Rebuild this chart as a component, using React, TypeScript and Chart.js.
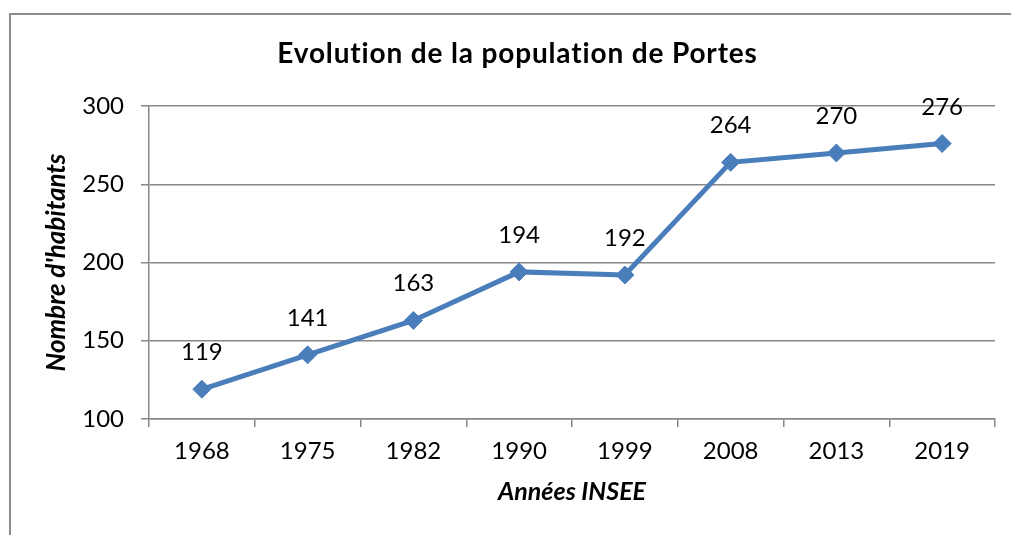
import React, { useEffect, useRef } from "react";
import { Chart, registerables } from "chart.js";

Chart.register(...registerables);

const years = ["1968", "1975", "1982", "1990", "1999", "2008", "2013", "2019"];
const population = [119, 141, 163, 194, 192, 264, 270, 276];
const yTicks = [100, 150, 200, 250, 300];
const chartTitle = "Evolution de la population de Portes";
const yTitle = "Nombre d'habitants";
const xTitle = "Années INSEE";

const FONT = "Lato, 'Open Sans', sans-serif";
const GRID = "#878787";
const BLUE = "#4A7EBB";

const titlePlugin = {
  id: "customTitle",
  afterDraw(chart: any) {
    const ctx = chart.ctx;
    ctx.save();
    ctx.font = `bold 28px ${FONT}`;
    try {
      (ctx as any).letterSpacing = "0.85px";
    } catch (e) {}
    ctx.fillStyle = "#000";
    ctx.textAlign = "center";
    ctx.textBaseline = "alphabetic";
    ctx.fillText(chartTitle, 517.5, 63);
    ctx.restore();
  },
};

const labelsPlugin = {
  id: "valueLabels",
  afterDatasetsDraw(chart: any) {
    const ctx = chart.ctx;
    const meta = chart.getDatasetMeta(0);
    ctx.save();
    ctx.font = `24px ${FONT}`;
    ctx.fillStyle = "#000";
    ctx.textAlign = "center";
    ctx.textBaseline = "alphabetic";
    meta.data.forEach((pt: any, i: number) => {
      ctx.fillText(String(population[i]), pt.x, pt.y - 29);
    });
    ctx.restore();
  },
};

export default function App() {
  const ref = useRef<HTMLCanvasElement | null>(null);
  useEffect(() => {
    if (!ref.current) return;
    const chart = new Chart(ref.current, {
      type: "line",
      data: {
        labels: years,
        datasets: [
          {
            data: population,
            borderColor: BLUE,
            backgroundColor: BLUE,
            borderWidth: 5,
            pointStyle: "rectRot",
            pointRadius: 9,
            pointBorderWidth: 1,
            pointBackgroundColor: BLUE,
            pointBorderColor: BLUE,
            tension: 0,
          },
        ],
      },
      options: {
        responsive: false,
        animation: false,
        events: [],
        layout: { padding: { left: 0, right: 16, top: 106, bottom: 0 } },
        plugins: {
          legend: { display: false },
          title: { display: false },
          tooltip: { enabled: false },
        },
        scales: {
          x: {
            offset: true,
            grid: {
              offset: true,
              drawOnChartArea: false,
              drawTicks: true,
              tickLength: 8,
              color: GRID,
              lineWidth: 1.5,
            },
            border: { color: GRID, width: 1.5 },
            ticks: {
              color: "#000",
              font: { family: FONT, size: 24 },
              padding: 10,
              maxRotation: 0,
            },
            title: {
              display: true,
              text: xTitle,
              color: "#000",
              font: { family: FONT, size: 25, weight: "bold", style: "italic" },
              padding: { top: 0, bottom: 28 },
            },
            afterFit(scale: any) {
              scale.height = 116;
            },
          },
          y: {
            min: 100,
            max: 300,
            afterBuildTicks(scale: any) {
              scale.ticks = yTicks.map((v) => ({ value: v }));
            },
            grid: {
              color: GRID,
              lineWidth: 1.5,
              tickLength: 8,
            },
            border: { color: GRID, width: 1.5 },
            ticks: {
              color: "#000",
              font: { family: FONT, size: 24 },
              padding: 17,
            },
            title: {
              display: true,
              text: yTitle,
              color: "#000",
              font: { family: FONT, size: 26, weight: "bold", style: "italic" },
              padding: { top: 41, bottom: 0 },
            },
            afterFit(scale: any) {
              scale.width = 149;
            },
          },
        },
      },
      plugins: [titlePlugin, labelsPlugin],
    });
    return () => chart.destroy();
  }, []);

  return (
    <div
      style={{
        position: "fixed",
        left: 0,
        top: 0,
        width: 1011,
        height: 535,
        overflow: "hidden",
        background: "#fff",
      }}
    >
      <div
        style={{
          position: "absolute",
          left: 9,
          top: 13,
          width: 1100,
          height: 700,
          border: "2px solid #8c8c8c",
          boxSizing: "border-box",
        }}
      />
      <canvas
        ref={ref}
        width={1011}
        height={535}
        style={{ position: "absolute", left: 0, top: 0, width: 1011, height: 535 }}
      />
    </div>
  );
}
